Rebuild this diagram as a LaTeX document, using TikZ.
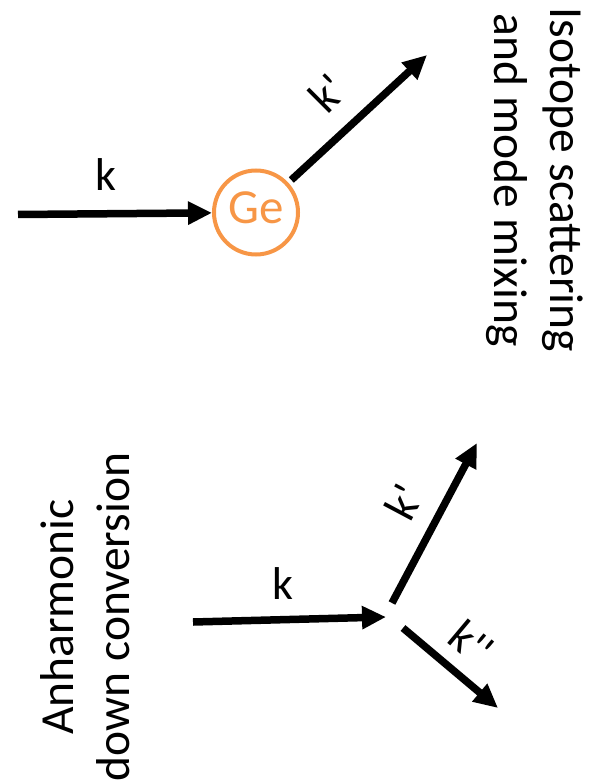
\documentclass[tikz,border=0pt]{standalone}
\usepackage{fontspec}
\newfontfamily\calfont{Carlito}
\usetikzlibrary{arrows.meta}
\definecolor{georange}{HTML}{F79646}
\begin{document}
\begin{tikzpicture}[x=1pt,y=-1pt,
  arr/.style={line width=7.5pt, -{Triangle[length=24pt,width=22pt]}},
  lbl/.style={font=\calfont\fontsize{46}{56}\selectfont, inner sep=0pt},
  ttl/.style={font=\calfont\fontsize{47.5}{57}\selectfont, inner sep=0pt, anchor=base}]
\useasboundingbox (0,0) rectangle (594,783);

% ---- top: isotope scattering ----
\coordinate (tin) at (18,214.5);
\coordinate (tout) at (427,55);
\node[circle, draw=georange, line width=4pt, minimum size=84pt, inner sep=0pt,
      text=georange, font=\calfont\fontsize{49}{58}\selectfont, text depth=10pt] (Ge) at (256,212.5) {Ge};
\draw[arr] (tin) -- (Ge);
\draw[arr, shorten <=4pt] (Ge) -- (tout);
\node[lbl] (tk) at (106,175) {k};
\node[lbl, rotate=45] (tkp) at (327,93) {k'};
\node[ttl, rotate=-90] (iso1) at (550,180) {Isotope scattering};
\node[ttl, rotate=-90] (iso2) at (494,180) {and mode mixing};

% ---- bottom: anharmonic down conversion ----
\coordinate (bin) at (193,622);
\coordinate (bend) at (386,617);
\coordinate (b1s) at (392,603);
\coordinate (b1e) at (477,443);
\coordinate (b2s) at (403,628);
\coordinate (b2e) at (498,708);
\draw[arr] (bin) -- (bend);
\draw[arr] (b1s) -- (b1e);
\draw[arr] (b2s) -- (b2e);
\node[lbl] (bk) at (283,584) {k};
\node[lbl, rotate=62] (bkp) at (404,502) {k'};
\node[lbl, rotate=-40] (bkpp) at (472,643) {k''};
\node[ttl, rotate=90] (anh1) at (73,617) {Anharmonic};
\node[ttl, rotate=90] (anh2) at (129,617) {down conversion};
\end{tikzpicture}
\end{document}
